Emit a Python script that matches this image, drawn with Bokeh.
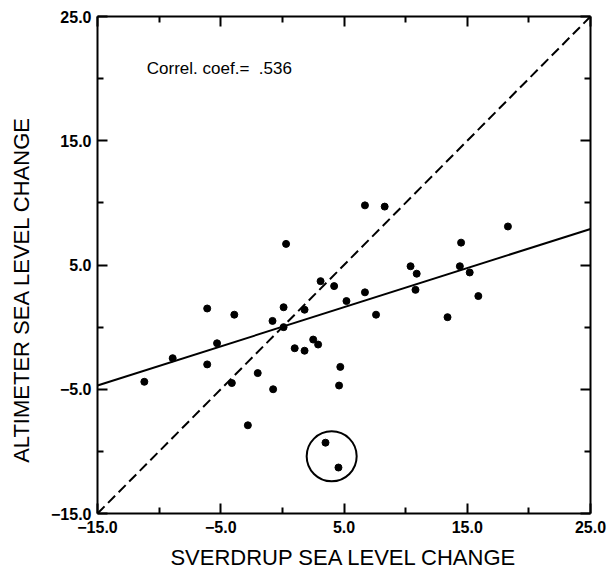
from bokeh.plotting import figure
from bokeh.models import Range1d, FixedTicker, LinearAxis, Label
from bokeh.embed import file_html
from bokeh.resources import INLINE

# Scatter data (Sverdrup vs altimeter sea level change)
sverdrup = [-11.2, -8.9, -6.1, -6.1, -5.3, -3.9, -4.1, -2.8, -2.0, -0.75,
            -0.8, 0.1, 0.3, 0.1, 1.0, 1.8, 1.8, 2.5, 2.9, 3.1,
            4.2, 4.6, 4.7, 5.2, 6.7, 6.7, 7.6, 8.3, 10.4, 10.9,
            10.8, 13.4, 14.4, 14.5, 15.2, 15.9, 18.3, 3.5, 4.55]
altimeter = [-4.4, -2.5, 1.5, -3.0, -1.3, 1.0, -4.5, -7.9, -3.7, -5.0,
             0.5, 1.6, 6.7, 0.0, -1.7, -1.9, 1.4, -1.0, -1.4, 3.7,
             3.3, -4.7, -3.2, 2.1, 9.8, 2.8, 1.0, 9.7, 4.9, 4.3,
             3.0, 0.8, 4.9, 6.8, 4.4, 2.5, 8.1, -9.3, -11.3]

# Regression line end points and 1:1 line
reg_x = [-15.0, 25.0]
reg_y = [-4.7, 7.9]
one_x = [-15.0, 25.0]
one_y = [-15.0, 25.0]

# Circled outliers
circle_x = [4.0]
circle_y = [-10.4]

major_ticks = [-15, -5, 5, 15, 25]
minor_ticks = [-10, 0, 10, 20]
tick_labels = {-15: "\u221215.0", -5: "\u22125.0", 5: "5.0", 15: "15.0", 25: "25.0"}

corr_text = "Correl. coef.=\u00a0 .536"
x_title = "SVERDRUP SEA LEVEL CHANGE"
y_title = "ALTIMETER SEA LEVEL CHANGE"

FONT = "Liberation Sans"

p = figure(width=608, height=575, output_backend="svg", toolbar_location=None,
           x_range=Range1d(-15, 25), y_range=Range1d(-15, 25),
           min_border_left=97, min_border_right=18, min_border_top=16,
           min_border_bottom=62, x_axis_label=x_title,
           y_axis_label=y_title + "\u00a0" * 8)
p.grid.visible = False
p.outline_line_color = None
p.background_fill_color = "white"
p.border_fill_color = "white"

ticker = FixedTicker(ticks=major_ticks, minor_ticks=minor_ticks)

def style_axis(ax, labels=True):
    ax.ticker = ticker
    ax.axis_line_width = 2
    ax.axis_line_color = "black"
    ax.major_tick_in = 10
    ax.major_tick_out = 0
    ax.minor_tick_in = 6
    ax.minor_tick_out = 0
    ax.major_tick_line_width = 2
    ax.minor_tick_line_width = 2
    ax.major_label_overrides = tick_labels
    ax.major_label_text_font = FONT
    ax.major_label_text_font_style = "bold"
    ax.major_label_text_font_size = "16px"
    ax.major_label_text_color = "black"
    ax.axis_label_text_font = FONT
    ax.axis_label_text_font_style = "normal"
    ax.axis_label_text_font_size = "22px"
    ax.axis_label_text_color = "black"
    if not labels:
        ax.major_label_text_alpha = 0
        ax.major_label_text_font_size = "0px"

for ax in p.xaxis + p.yaxis:
    style_axis(ax)

p.xaxis.axis_label_standoff = 9
p.xaxis.major_label_standoff = 7
p.yaxis.major_label_standoff = 6
p.yaxis.axis_label_standoff = 14

top = LinearAxis()
style_axis(top, labels=False)
p.add_layout(top, "above")
right = LinearAxis()
style_axis(right, labels=False)
p.add_layout(right, "right")

p.line(one_x, one_y, line_color="black", line_width=2, line_dash="10 5")
p.line(reg_x, reg_y, line_color="black", line_width=2)
p.scatter(sverdrup, altimeter, size=7, color="black")
p.circle(circle_x, circle_y, radius=25, radius_units="screen",
         fill_color=None, line_color="black", line_width=2)

p.add_layout(Label(x=-11.0, y=20.8, text=corr_text, text_font=FONT,
                   text_font_size="17px", text_baseline="middle",
                   text_color="black"))

open("out.html", "w").write(file_html(p, INLINE))
